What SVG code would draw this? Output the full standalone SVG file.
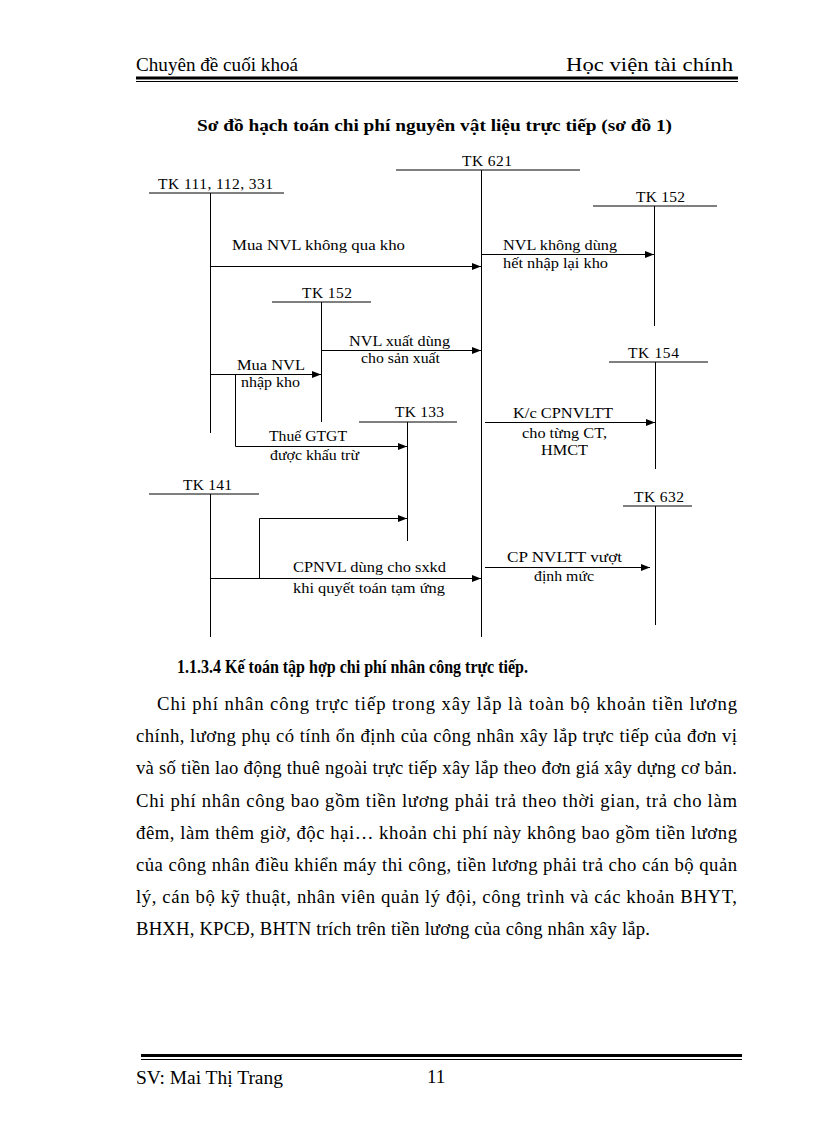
<svg xmlns="http://www.w3.org/2000/svg" width="816" height="1123" viewBox="0 0 816 1123">
<defs>
<marker id="ah" markerWidth="9" markerHeight="7" refX="9" refY="3.5" orient="auto" markerUnits="userSpaceOnUse">
<path d="M0,0 L9,3.5 L0,7 z" fill="#000"/>
</marker>
<style>
text{font-family:"Liberation Serif","Times New Roman",serif;fill:#000}
.hd{font-size:19px}
.lb{font-size:15.5px}
.tk{font-size:15.5px}
.p{font-size:18.7px}
.b{font-weight:bold}
.ln{stroke:#000;stroke-width:1;fill:none}
.ar{stroke:#000;stroke-width:1;fill:none;marker-end:url(#ah)}
</style>
</defs>
<rect width="816" height="1123" fill="#fff"/>

<g id="header">
<text class="hd" x="136" y="71" textLength="162" lengthAdjust="spacingAndGlyphs">Chuyên đề cuối khoá</text>
<text class="hd" x="566" y="71" textLength="167" lengthAdjust="spacingAndGlyphs">Học viện tài chính</text>
<line x1="136" y1="78" x2="738" y2="78" stroke="#000" stroke-width="3"/>
<line x1="136" y1="81.5" x2="738" y2="81.5" stroke="#000" stroke-width="1"/>
</g>

<g id="title">
<text class="b" x="197" y="131" font-size="16.5" textLength="475" lengthAdjust="spacingAndGlyphs">Sơ đồ hạch toán chi phí nguyên vật liệu trực tiếp (sơ đồ 1)</text>
</g>

<g id="tk621">
<text class="tk" x="462" y="166" textLength="50">TK 621</text>
<line class="ln" x1="396" y1="170" x2="580" y2="170"/>
<line class="ln" x1="481.5" y1="170" x2="481.5" y2="637"/>
</g>
<g id="tk111">
<text class="tk" x="158" y="189" textLength="115">TK 111, 112, 331</text>
<line class="ln" x1="149" y1="193" x2="284" y2="193"/>
<line class="ln" x1="210.5" y1="193" x2="210.5" y2="433"/>
</g>
<g id="tk152a">
<text class="tk" x="636" y="202" textLength="49">TK 152</text>
<line class="ln" x1="593" y1="206" x2="717" y2="206"/>
<line class="ln" x1="654.5" y1="206" x2="654.5" y2="326"/>
</g>
<g id="tk152b">
<text class="tk" x="302" y="298" textLength="50">TK 152</text>
<line class="ln" x1="272" y1="302" x2="371" y2="302"/>
<line class="ln" x1="321.5" y1="302" x2="321.5" y2="422"/>
</g>
<g id="tk154">
<text class="tk" x="628" y="358" textLength="51">TK 154</text>
<line class="ln" x1="609" y1="362" x2="708" y2="362"/>
<line class="ln" x1="655.5" y1="362" x2="655.5" y2="469"/>
</g>
<g id="tk133">
<text class="tk" x="395" y="417" textLength="49">TK 133</text>
<line class="ln" x1="359" y1="422" x2="457" y2="422"/>
<line class="ln" x1="407.5" y1="422" x2="407.5" y2="541"/>
</g>
<g id="tk141">
<text class="tk" x="183" y="490" textLength="49">TK 141</text>
<line class="ln" x1="149" y1="494" x2="259" y2="494"/>
<line class="ln" x1="210.5" y1="494" x2="210.5" y2="637"/>
</g>
<g id="tk632">
<text class="tk" x="634" y="502" textLength="50">TK 632</text>
<line class="ln" x1="623" y1="506" x2="692" y2="506"/>
<line class="ln" x1="655.5" y1="506" x2="655.5" y2="625"/>
</g>

<g id="connectors">
<path class="ar" d="M210.5,266.5 H481"/>
<path class="ar" d="M481.5,254.5 H654"/>
<path class="ar" d="M321.5,350.5 H481"/>
<path class="ar" d="M210.5,374.5 H321"/>
<path class="ar" d="M235.5,374.5 V446.5 H407"/>
<path class="ar" d="M485,422.5 H655"/>
<path class="ar" d="M259.5,578.5 V518.5 H407"/>
<path class="ar" d="M210.5,578.5 H481"/>
<path class="ar" d="M485,567.5 H650"/>
</g>

<g id="labels">
<text class="lb" x="232" y="250" textLength="173" lengthAdjust="spacingAndGlyphs">Mua NVL  không qua kho</text>
<text class="lb" x="503" y="250" textLength="114" lengthAdjust="spacingAndGlyphs">NVL không dùng</text>
<text class="lb" x="503" y="268" textLength="105" lengthAdjust="spacingAndGlyphs">hết nhập lại kho</text>
<text class="lb" x="349" y="346" textLength="101" lengthAdjust="spacingAndGlyphs">NVL xuất dùng</text>
<text class="lb" x="361" y="363" textLength="79" lengthAdjust="spacingAndGlyphs">cho sản xuất</text>
<text class="lb" x="237" y="370" textLength="68" lengthAdjust="spacingAndGlyphs">Mua NVL</text>
<text class="lb" x="241" y="387" textLength="59" lengthAdjust="spacingAndGlyphs">nhập kho</text>
<text class="lb" x="269" y="441" textLength="78" lengthAdjust="spacingAndGlyphs">Thuế GTGT</text>
<text class="lb" x="270" y="460" textLength="89" lengthAdjust="spacingAndGlyphs">được khấu trừ</text>
<text class="lb" x="513" y="418" textLength="100" lengthAdjust="spacingAndGlyphs">K/c CPNVLTT</text>
<text class="lb" x="522" y="438" textLength="85" lengthAdjust="spacingAndGlyphs">cho từng CT,</text>
<text class="lb" x="541" y="455" textLength="47" lengthAdjust="spacingAndGlyphs">HMCT</text>
<text class="lb" x="293" y="572" textLength="153" lengthAdjust="spacingAndGlyphs">CPNVL dùng cho sxkd</text>
<text class="lb" x="293" y="593" textLength="152" lengthAdjust="spacingAndGlyphs">khi quyết toán tạm ứng</text>
<text class="lb" x="507" y="562" textLength="115" lengthAdjust="spacingAndGlyphs">CP NVLTT  vượt</text>
<text class="lb" x="534" y="581" textLength="60" lengthAdjust="spacingAndGlyphs">định mức</text>
</g>

<g id="body">
<text class="b" x="177" y="673" font-size="18.5" textLength="351" lengthAdjust="spacingAndGlyphs">1.1.3.4 Kế toán tập hợp chi phí nhân công trực tiếp.</text>
<text class="p" x="157" y="710" textLength="580" lengthAdjust="spacing">Chi phí nhân công trực tiếp trong xây lắp là toàn bộ khoản tiền lương</text>
<text class="p" x="136" y="742" textLength="601" lengthAdjust="spacing">chính, lương phụ có tính ổn định của công nhân xây lắp trực tiếp của đơn vị</text>
<text class="p" x="136" y="774" textLength="601" lengthAdjust="spacing">và số tiền lao động thuê ngoài trực tiếp xây lắp theo đơn giá xây dựng cơ bản.</text>
<text class="p" x="136" y="807" textLength="601" lengthAdjust="spacing">Chi phí nhân công bao gồm tiền lương phải trả theo thời gian, trả cho làm</text>
<text class="p" x="136" y="839" textLength="601" lengthAdjust="spacing">đêm, làm thêm giờ, độc hại… khoản chi phí này không bao gồm tiền lương</text>
<text class="p" x="136" y="871" textLength="601" lengthAdjust="spacing">của công nhân điều khiển máy thi công, tiền lương phải trả cho cán bộ quản</text>
<text class="p" x="136" y="903" textLength="601" lengthAdjust="spacing">lý, cán bộ kỹ thuật, nhân viên quản lý đội, công trình và các khoản BHYT,</text>
<text class="p" x="136" y="935" textLength="514" lengthAdjust="spacing">BHXH, KPCĐ, BHTN trích trên tiền lương của công nhân xây lắp.</text>
</g>

<g id="footer">
<line x1="141" y1="1055.5" x2="742" y2="1055.5" stroke="#000" stroke-width="3"/>
<line x1="141" y1="1059.5" x2="742" y2="1059.5" stroke="#000" stroke-width="1"/>
<text class="hd" x="136" y="1084" textLength="147" lengthAdjust="spacingAndGlyphs">SV: Mai Thị Trang</text>
<text class="hd" x="427" y="1083">11</text>
</g>
</svg>
